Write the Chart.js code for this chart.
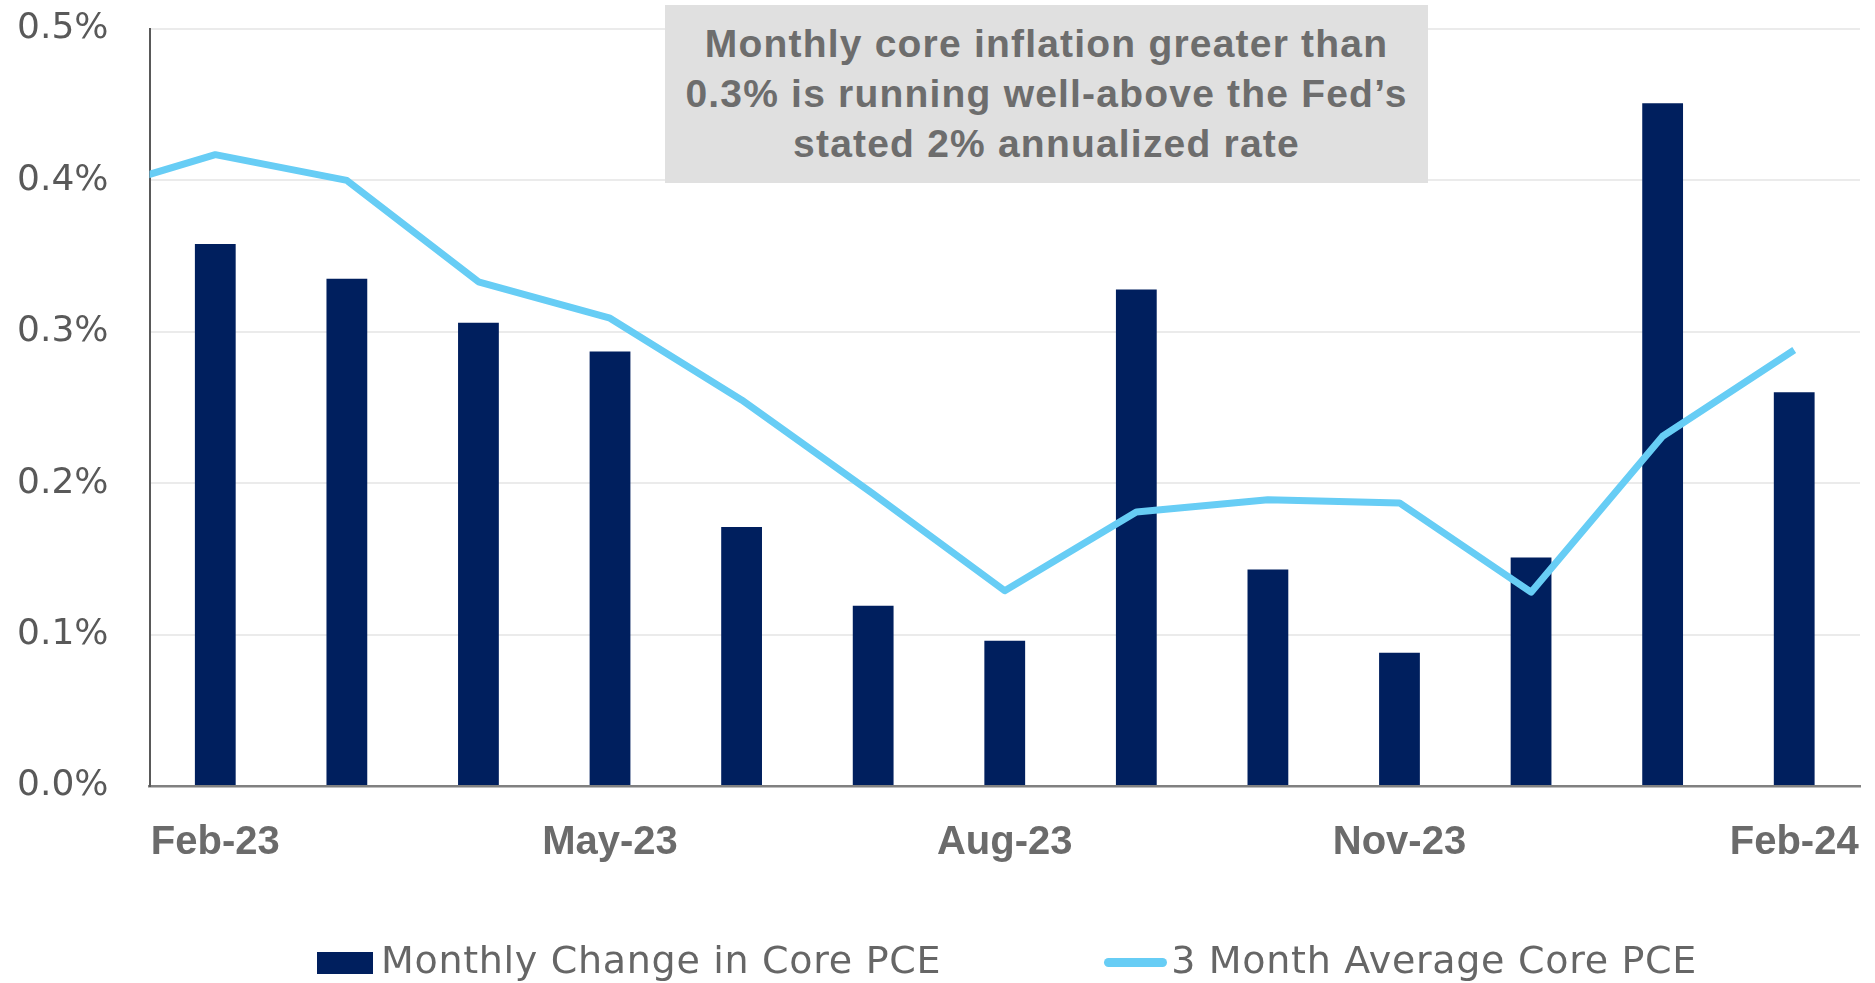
<!DOCTYPE html>
<html>
<head>
<meta charset="utf-8">
<script src="https://cdn.jsdelivr.net/npm/chart.js@4.4.1/dist/chart.umd.min.js"></script>
<style>
  html, body { margin: 0; padding: 0; background: #fff; overflow: hidden; }
  #wrap { position: relative; width: 1875px; height: 983px; }
  #note {
    position: absolute; left: 665px; top: 5px; width: 763px; height: 178px;
    background: #e0e0e0; color: #6d6d6d;
    font: bold 39px "Liberation Sans", Arial, sans-serif; letter-spacing: 1.2px;
    line-height: 50px; text-align: center;
    display: flex; align-items: center; justify-content: center;
  }
  #legend {
    position: absolute; left: 317px; top: 938px; display: flex; gap: 163px;
    font: 38px "DejaVu Sans", sans-serif; color: #666; line-height: 44px; letter-spacing: 0.7px;
  }
  .item { display: flex; align-items: flex-start; white-space: nowrap; }
  .swatch { margin-right: 8px; }
</style>
</head>
<body>
<div id="wrap">
  <canvas id="pceChart" width="1875" height="983"></canvas>
  <div id="note">Monthly core inflation greater than<br>0.3% is running well-above the Fed’s<br>stated 2% annualized rate</div>
  <div id="legend"></div>
</div>
<script>
const months = ['Feb-23', 'Mar-23', 'Apr-23', 'May-23', 'Jun-23', 'Jul-23', 'Aug-23',
                'Sep-23', 'Oct-23', 'Nov-23', 'Dec-23', 'Jan-24', 'Feb-24'];
const monthlyChange = [0.358, 0.335, 0.306, 0.287, 0.171, 0.119, 0.096, 0.328, 0.143, 0.088, 0.151, 0.451, 0.260];
// 3 month average starts one month earlier (Jan-23), the chart cuts it at the axis
const avgMonths = ['Jan-23'].concat(months);
const threeMonthAvg = [0.391, 0.417, 0.400, 0.333, 0.309, 0.255, 0.193, 0.129, 0.181, 0.189, 0.187, 0.128, 0.231, 0.288];
const xTickLabels = ['Feb-23', 'May-23', 'Aug-23', 'Nov-23', 'Feb-24'];
const yTicks = [0, 0.1, 0.2, 0.3, 0.4, 0.5];

const barColor = '#001f5e';
const lineColor = '#67cdf5';

const ctx = document.getElementById('pceChart').getContext('2d');

const myChart = new Chart(ctx, {
    type: 'bar',
    data: {
        datasets: [
            {
                type: 'line',
                label: '3 Month Average Core PCE',
                data: threeMonthAvg.map((v, i) => ({ x: months.indexOf(avgMonths[i]), y: v })),
                borderColor: lineColor,
                borderWidth: 7,
                borderJoinStyle: 'round',
                pointRadius: 0,
                tension: 0,
                order: 0,
                clip: { left: 0, top: 10, right: 10, bottom: 10 }
            },
            {
                type: 'bar',
                label: 'Monthly Change in Core PCE',
                data: monthlyChange.map((v, i) => ({ x: i, y: v })),
                backgroundColor: barColor,
                barPercentage: 0.31,
                categoryPercentage: 1,
                order: 1
            }
        ]
    },
    options: {
        responsive: false,
        animation: false,
        layout: { autoPadding: false, padding: { left: 17, right: 15, top: 29, bottom: 117 } },
        scales: {
            x: {
                type: 'linear',
                min: -0.5,
                max: 12.5,
                offset: false,
                afterBuildTicks: function(scale) {
                    scale.ticks = xTickLabels.map(l => ({ value: months.indexOf(l) }));
                },
                afterFit: function(scale) {
                    scale.height = 80;
                    scale.paddingLeft = 0;
                    scale.paddingRight = 0;
                },
                grid: { display: false },
                border: { color: '#808080', width: 2.5 },
                ticks: {
                    autoSkip: false,
                    maxRotation: 0,
                    padding: 25,
                    color: '#6b6b6b',
                    font: { family: 'Liberation Sans', size: 40, weight: 'bold' },
                    callback: function(value) {
                        return months[value];
                    }
                }
            },
            y: {
                min: 0,
                max: 0.5,
                afterBuildTicks: function(scale) {
                    scale.ticks = yTicks.map(v => ({ value: v }));
                },
                afterFit: function(scale) {
                    scale.width = 132.5;
                    scale.paddingTop = 0;
                    scale.paddingBottom = 0;
                },
                grid: { color: '#ebebeb', lineWidth: 2, drawTicks: false },
                border: { color: '#595959', width: 2 },
                ticks: {
                    padding: 41,
                    color: '#595959',
                    font: { family: 'DejaVu Sans', size: 36 },
                    callback: function(value) {
                        return value.toFixed(1) + '%';
                    }
                }
            }
        },
        plugins: {
            legend: { display: false },
            tooltip: { enabled: false }
        }
    }
});

// legend below the chart, built from the datasets
const legend = document.getElementById('legend');
[myChart.data.datasets[1], myChart.data.datasets[0]].forEach(ds => {
    const item = document.createElement('div');
    item.className = 'item';
    const sw = document.createElement('span');
    sw.className = 'swatch';
    if (ds.type === 'bar') {
        sw.style.cssText = 'display:inline-block;width:56px;height:22px;margin-top:14px;background:' + ds.backgroundColor;
    } else {
        sw.style.cssText = 'display:inline-block;width:63px;height:9px;border-radius:5px;margin-top:20px;margin-right:4px;background:' + ds.borderColor;
    }
    const txt = document.createElement('span');
    txt.textContent = ds.label;
    item.appendChild(sw);
    item.appendChild(txt);
    legend.appendChild(item);
});
</script>
</body>
</html>
